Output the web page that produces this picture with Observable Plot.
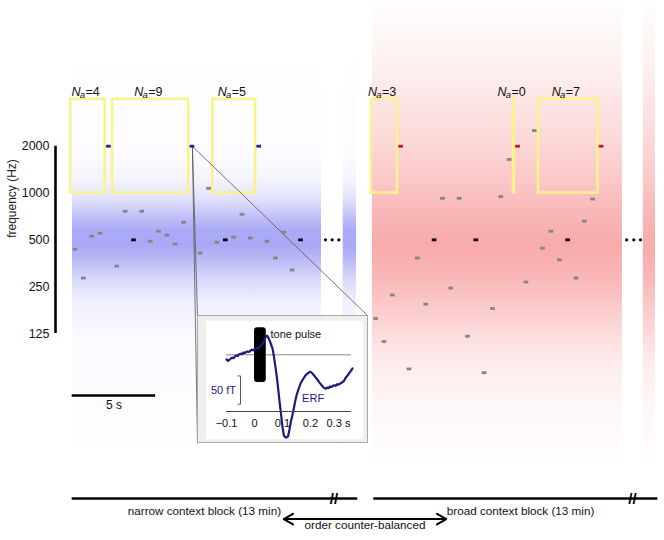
<!DOCTYPE html>
<html><head><meta charset="utf-8">
<script src="https://cdn.jsdelivr.net/npm/d3@7"></script>
<script src="https://cdn.jsdelivr.net/npm/@observablehq/plot@0.6"></script>
<style>
html,body{margin:0;padding:0;background:#fff;}
#root{position:relative;width:664px;height:540px;overflow:hidden;}
#root svg{position:absolute;}
#insetFrame{position:absolute;left:197px;top:315px;width:169px;height:126px;border:1px solid #a9a9a9;background:#efefef;}
</style></head><body><div id="root"></div>
<script>
// ---------------- data ----------------
const toneStep = 0.5;               // s between tone onsets
const blockNames = ["narrow", "broad"];
const blockOnset = [0, 18];         // s
const narrowFreq = [436,284,528,552,2000,339,764,500,764,490,568,536,470,649,2000,411,1072,483,500,520,730,514,2000,490,382,560,320,500];
const narrowRole = ["g","g","g","g","d","g","g","s","g","g","g","g","g","g","d","g","g","g","s","g","g","g","d","g","g","g","g","s"];
const broadFreq  = [156,111,221,2000,74,382,193,500,925,245,925,120,500,70,181,948,1643,2000,268,2521,442,568,372,500,284,659,915,2000];
const broadRole  = ["g","g","g","d","g","g","g","s","g","g","g","g","s","g","g","g","g","d","g","g","g","g","g","s","g","g","g","d"];

// adaptation windows preceding deviants
const windowBlock = ["narrow","narrow","narrow","broad","broad","broad"];
const windowDeviant = [4,14,22,3,17,27];
const windowNa = [4,9,5,3,0,7];
const windowFreq = [1000, 4000];

// context distributions (background bands), seconds / Hz
const blueBandT = [[-0.18,14.73],[16.03,16.83]];
const redBandT  = [[17.78,32.75],[34.0,34.73]];
const blueBandF = [18, 9500];
const redBandF  = [18, 16000];
const ellipsisT = [14.97,15.37,15.77,33.0,33.43,33.83];

const freqTicks = [125,250,500,1000,2000];

// ERF inset (s, fT)
const erfT = [-0.100,-0.095,-0.090,-0.085,-0.080,-0.075,-0.070,-0.065,-0.060,-0.055,-0.050,-0.045,-0.040,-0.035,-0.030,-0.025,-0.020,-0.015,-0.010,-0.005,0.000,0.005,0.010,0.015,0.020,0.025,0.030,0.035,0.040,0.045,0.050,0.055,0.060,0.065,0.070,0.075,0.080,0.085,0.090,0.095,0.100,0.105,0.110,0.115,0.120,0.125,0.130,0.135,0.140,0.145,0.150,0.155,0.160,0.165,0.170,0.175,0.180,0.185,0.190,0.195,0.200,0.205,0.210,0.215,0.220,0.225,0.230,0.235,0.240,0.245,0.250,0.255,0.260,0.265,0.270,0.275,0.280,0.285,0.290,0.295,0.300,0.305,0.310,0.315,0.320,0.325,0.330,0.335,0.340,0.345,0.350];
const erfV = [-8,-11,-9,-7,-5,-6,-3,-1,-2,1,2,1,4,3,5,6,5,7,9,8,10,12,11,13,15,17,20,25,32,34,30,24,17,10,-5,-22,-40,-62,-85,-106,-128,-143,-146,-146,-144,-132,-118,-108,-96,-83,-72,-64,-57,-50,-46,-42,-38,-35,-33,-31,-30,-32,-35,-38,-41,-44,-48,-51,-54,-57,-59,-60,-58,-59,-56,-57,-55,-54,-55,-52,-53,-51,-50,-48,-46,-41,-38,-35,-31,-28,-24];
const erfTicks = [-0.1,0,0.1,0.2,0.3];
const pulseT = [0, 0.042];
const scaleFT = 50;

const blockLabels = ["narrow context block (13 min)","broad context block (13 min)"];
const blockLineT = [[-0.2,16.9],[17.86,34.87]];
const breakT = [15.48,33.35];
const blockLabelT = [7.72,26.65];
const orderArrowT = [12.47,22.2];
const orderLabel = "order counter-balanced";

// ---------------- build ----------------
const FONT = '"Liberation Sans", Arial, Helvetica, sans-serif';
const root = document.getElementById("root");
const xOpt = {domain:[0,30], range:[75,576]};
const yOpt = {type:"log", domain:[125,2000], range:[333,145.7]};
const xs = Plot.scale({x: xOpt});
const ys = Plot.scale({y: yOpt});

const tones = [];
narrowFreq.forEach((f,i)=>tones.push({t: blockOnset[0]+i*toneStep, f, role: narrowRole[i], block:"narrow"}));
broadFreq.forEach((f,i)=>tones.push({t: blockOnset[1]+i*toneStep, f, role: broadRole[i], block:"broad"}));

const tOf = (block,i)=> blockOnset[blockNames.indexOf(block)] + i*toneStep;
const boxes = windowBlock.map((b,k)=>{
  const dev = windowDeviant[k], na = windowNa[k];
  const x2 = tOf(b,dev) - 0.22;
  const x1 = na>0 ? tOf(b,dev-na) - 0.28 : tOf(b,dev) - 0.27;
  return {x1, x2, c:(x1+x2)/2, na};
});

const toneMark = (data, color) => Plot.ruleY(data, {y:"f", x1:d=>d.t-0.14, x2:d=>d.t+0.14, stroke:color, strokeWidth:2.8});
const bandMark = (spans, f, grad) => Plot.rect(spans, {x1:d=>d[0], x2:d=>d[1], y1:f[0], y2:f[1], fill:grad});

// connectors from the zoomed deviant to the inset
const zoomTone = tones.find(d=>d.block==="narrow" && d.role==="d" && d.t===7);
const corners = [[197,315],[197,443],[367,315]].map(([px,py])=>({x: xs.invert(px), y: ys.invert(py)}));

const main = Plot.plot({
  width:664, height:540,
  marginLeft:55, marginTop:145.7, marginBottom:207, marginRight:0,
  x:{...xOpt, axis:null},
  y:{...yOpt},
  style:{fontFamily:FONT, background:"transparent", overflow:"visible"},
  marks:[
    bandMark(blueBandT, blueBandF, "url(#gBlue)"),
    bandMark(redBandT, redBandF, "url(#gRed)"),
    Plot.rect(boxes, {x1:"x1", x2:"x2", y1:windowFreq[0], y2:windowFreq[1], fill:"none", stroke:"#f8f38a", strokeWidth:2.6}),
    Plot.link(corners, {x1:()=>zoomTone.t, y1:()=>zoomTone.f, x2:"x", y2:"y", stroke:"#555", strokeWidth:0.8}),
    toneMark(tones.filter(d=>d.role==="g"), "#858585"),
    toneMark(tones.filter(d=>d.role==="s"), "#000"),
    toneMark(tones.filter(d=>d.role==="d" && d.block==="narrow"), "#22228c"),
    toneMark(tones.filter(d=>d.role==="d" && d.block==="broad"), "#b01e1e"),
    Plot.text(boxes, {x:"c", y:windowFreq[1], text:()=>"N", dx:-16.5, dy:-7, textAnchor:"start", fontStyle:"italic", fontSize:12.5, fill:"#111"}),
    Plot.text(boxes, {x:"c", y:windowFreq[1], text:()=>"a", dx:-8.2, dy:-4.6, textAnchor:"start", fontStyle:"italic", fontSize:9.5, fill:"#111"}),
    Plot.text(boxes, {x:"c", y:windowFreq[1], text:d=>"="+d.na, dx:-2.5, dy:-7, textAnchor:"start", fontSize:12.5, fill:"#111"}),
    Plot.dot(ellipsisT, {x:d=>d, y:500, r:1.6, fill:"#000", stroke:"none"}),
    Plot.ruleX([xs.invert(55)], {y1:freqTicks[0], y2:freqTicks[freqTicks.length-1], strokeWidth:2.6, stroke:"#000"}),
    Plot.axisY({ticks:freqTicks, tickFormat:d=>String(d), tickSize:0, tickPadding:6, fontSize:12.5, label:null, fill:"#111"}),
    Plot.text(["frequency (Hz)"], {frameAnchor:"left", dx:-43, dy:-2, rotate:-90, text:d=>d, fontSize:12, fill:"#222"}),
    Plot.ruleY([ys.invert(395)], {x1:-0.2, x2:4.8, strokeWidth:2.5, stroke:"#000"}),
    Plot.text(["5 s"], {x:2.3, y:ys.invert(395), dy:10, text:d=>d, fontSize:12, fill:"#111"})
  ]
});
// gradient definitions for the context bands
const defs = d3.select(main).insert("defs", ":first-child");
function grad(id, stops){
  const g = defs.append("linearGradient").attr("id", id).attr("x1",0).attr("y1",0).attr("x2",0).attr("y2",1);
  stops.forEach(([o,c])=>g.append("stop").attr("offset",o).attr("stop-color",c));
}
grad("gBlue", [[0,"#ffffff"],[0.259,"#fcfcff"],[0.329,"#f4f4fe"],[0.376,"#e0e0fc"],[0.412,"#c4c4f9"],[0.447,"#ababf6"],[0.482,"#a8a8f5"],[0.518,"#bbbbf7"],[0.565,"#d9d9fb"],[0.612,"#eeeefd"],[0.706,"#fafaff"],[1,"#ffffff"]]);
grad("gRed", [[0,"#fffcfc"],[0.12,"#fef2f2"],[0.207,"#fde5e5"],[0.307,"#fcd6d6"],[0.402,"#fbc3c3"],[0.467,"#f9b4b4"],[0.522,"#f8abab"],[0.576,"#f9b3b3"],[0.641,"#fbc5c5"],[0.707,"#fcd9d9"],[0.772,"#fdeaea"],[0.859,"#fef6f6"],[1,"#fffefe"]]);
main.style.left = "0px"; main.style.top = "0px";
root.appendChild(main);

// ---------------- inset ----------------
const frame = document.createElement("div");
frame.id = "insetFrame";
root.appendChild(frame);

const erf = erfT.map((t,i)=>({t, v: erfV[i]}));
const iyOpt = {domain:[-150,50], range:[118.05,5.05]};
const iys = Plot.scale({y: iyOpt});
const axisV = iys.invert(90);
const inset = Plot.plot({
  width:157, height:118,
  marginLeft:20, marginRight:11, marginTop:0, marginBottom:28,
  x:{domain:[-0.1,0.35], range:[20,146]},
  y:{...iyOpt, axis:null},
  style:{fontFamily:FONT, background:"#fff", overflow:"visible"},
  marks:[
    Plot.ruleY([0], {x1:-0.1, x2:0.346, stroke:"#8a8a8a", strokeWidth:1}),
    Plot.rect([pulseT], {x1:d=>d[0], x2:d=>d[1], y1:-49, y2:48, fill:"#000", rx:3}),
    Plot.line(erf, {x:"t", y:"v", stroke:"#1b1b7e", strokeWidth:2.2}),
    Plot.ruleY([axisV], {x1:-0.1, x2:0.346, stroke:"#444", strokeWidth:1}),
    Plot.axisX({ticks:erfTicks, tickFormat:d=>(d<0?"\u2212":"")+Math.abs(d)+(d===0.3?" s":""), tickSize:0, tickPadding:8, fontSize:11, label:null, fill:"#111"}),
    Plot.text(["tone pulse"], {x:0.057, y:36, text:d=>d, textAnchor:"start", fontSize:11, fill:"#111"}),
    Plot.line([[-0.059,-37.4],[-0.05,-37.4],[-0.05,-37.4-scaleFT],[-0.059,-37.4-scaleFT]], {x:d=>d[0], y:d=>d[1], stroke:"#555", strokeWidth:1}),
    Plot.text([scaleFT+" fT"], {x:-0.066, y:-64, text:d=>d, textAnchor:"end", fontSize:11, fill:"#1b1b7e"}),
    Plot.text(["ERF"], {x:0.17, y:-78, text:d=>d, textAnchor:"start", fontSize:11, fill:"#1b1b7e"})
  ]
});
inset.style.left = "206px"; inset.style.top = "321px";
root.appendChild(inset);

// ---------------- bottom annotation ----------------
const blocks = blockLabels.map((name,i)=>({name, start:blockLineT[i][0], end:blockLineT[i][1], brk:breakT[i], mid:blockLabelT[i]}));
const arrowMid = (orderArrowT[0]+orderArrowT[1])/2;
const bottom = Plot.plot({
  width:664, height:60, margin:0,
  x:{...xOpt, axis:null},
  y:{type:"point", domain:["line","label","arrow","note"], range:[12.3,50], axis:null},
  style:{fontFamily:FONT, background:"transparent", overflow:"visible"},
  marks:[
    Plot.ruleY(blocks, {y:()=>"line", x1:"start", x2:"end", stroke:"#000", strokeWidth:2.5}),
    Plot.text(blocks, {x:"brk", y:()=>"line", text:()=>"//", fontSize:15, fontWeight:"bold", dy:1, fill:"#000"}),
    Plot.text(blocks, {x:"mid", y:()=>"label", text:"name", dy:3.4, fontSize:11.7, fill:"#111"}),
    Plot.arrow(orderArrowT, {x1:()=>arrowMid, x2:d=>d, y1:()=>"arrow", y2:()=>"arrow", dy:2.6, stroke:"#000", strokeWidth:2, headLength:8}),
    Plot.text([orderLabel], {x:arrowMid, y:()=>"note", text:d=>d, fontSize:11.7, fill:"#111"})
  ]
});
bottom.style.left = "0px"; bottom.style.top = "480px";
root.appendChild(bottom);
</script></body></html>
